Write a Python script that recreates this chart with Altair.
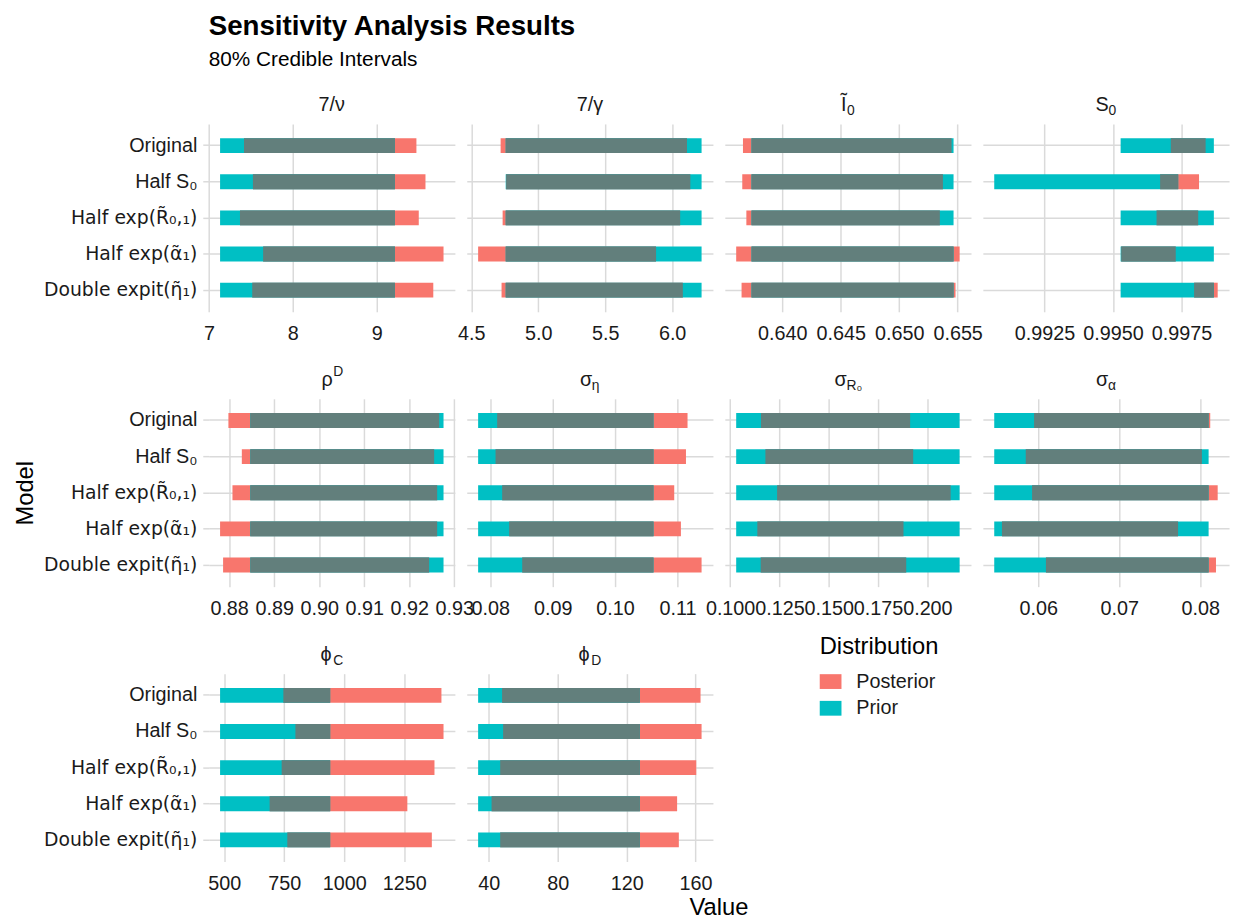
import altair as alt
import pandas as pd

FONT = "Liberation Sans, Arial, Helvetica, sans-serif"
TXT = "#1a1a1a"
GRID = "#DADADA"

MODELS = ["Original", "Half S\u2080", "Half exp(R\u0303\u2080,\u2081)",
          "Half exp(\u03b1\u0303\u2081)", "Double expit(\u03b7\u0303\u2081)"]

PARAMS = ["nu", "gamma", "I0", "S0", "rhoD", "sig_eta", "sig_R0", "sig_alpha", "phiC", "phiD"]

# 80% credible intervals (one value per model, in MODELS order)
PRIOR_LO = {
    "nu": [7.133, 7.133, 7.133, 7.133, 7.133],
    "gamma": [4.757, 4.757, 4.757, 4.757, 4.757],
    "I0": [0.63738, 0.63738, 0.63738, 0.63738, 0.63738],
    "S0": [0.99528, 0.99067, 0.99528, 0.99528, 0.99528],
    "rhoD": [0.88469, 0.88469, 0.88469, 0.88469, 0.88469],
    "sig_eta": [0.07806, 0.07806, 0.07806, 0.07806, 0.07806],
    "sig_R0": [0.10307, 0.10307, 0.10307, 0.10307, 0.10307],
    "sig_alpha": [0.05458, 0.05458, 0.05458, 0.05458, 0.05458],
    "phiC": [483, 483, 483, 483, 483],
    "phiD": [33.8, 33.8, 33.8, 33.8, 33.8],
}
PRIOR_HI = {
    "nu": [9.216, 9.216, 9.216, 9.216, 9.216],
    "gamma": [6.22, 6.22, 6.22, 6.22, 6.22],
    "I0": [0.65465, 0.65465, 0.65465, 0.65465, 0.65465],
    "S0": [0.99868, 0.99738, 0.99868, 0.99868, 0.99868],
    "rhoD": [0.92761, 0.92761, 0.92761, 0.92761, 0.92761],
    "sig_eta": [0.10615, 0.10615, 0.10615, 0.10615, 0.10615],
    "sig_R0": [0.21635, 0.21635, 0.21635, 0.21635, 0.21635],
    "sig_alpha": [0.08104, 0.08104, 0.08104, 0.08104, 0.08104],
    "phiC": [941.6, 941.6, 941.6, 941.6, 941.6],
    "phiD": [127.7, 127.7, 127.7, 127.7, 127.7],
}
POST_LO = {
    "nu": [7.418, 7.524, 7.37, 7.646, 7.516],
    "gamma": [4.719, 4.760, 4.734, 4.551, 4.726],
    "I0": [0.63665, 0.63659, 0.63694, 0.63607, 0.63653],
    "S0": [0.99711, 0.99672, 0.99659, 0.9953, 0.99796],
    "rhoD": [0.87984, 0.88282, 0.88074, 0.87799, 0.87866],
    "sig_eta": [0.08111, 0.08085, 0.08191, 0.08303, 0.08512],
    "sig_R0": [0.11564, 0.11789, 0.12381, 0.11379, 0.11549],
    "sig_alpha": [0.0595, 0.05847, 0.05925, 0.05553, 0.06096],
    "phiC": [746.6, 796.8, 739.5, 689.4, 763],
    "phiD": [47.7, 48.3, 46.6, 41.6, 46.6],
}
POST_HI = {
    "nu": [9.472, 9.58, 9.50, 9.795, 9.673],
    "gamma": [6.111, 6.136, 6.06, 5.88, 6.08],
    "I0": [0.65448, 0.65374, 0.65348, 0.65517, 0.65482],
    "S0": [0.99838, 0.99814, 0.99811, 0.99729, 0.99882],
    "rhoD": [0.92665, 0.92553, 0.9262, 0.9262, 0.92442],
    "sig_eta": [0.1116, 0.11135, 0.10947, 0.11054, 0.11385],
    "sig_R0": [0.19126, 0.1928, 0.21177, 0.18789, 0.18927],
    "sig_alpha": [0.08124, 0.08021, 0.08216, 0.07727, 0.08195],
    "phiC": [1405, 1413.7, 1376, 1263, 1365],
    "phiD": [162.9, 163.5, 160.4, 149.3, 150.3],
}

TICKS = {
    "nu": [7, 8, 9],
    "gamma": [4.5, 5.0, 5.5, 6.0],
    "I0": [0.640, 0.645, 0.650, 0.655],
    "S0": [0.9925, 0.9950, 0.9975],
    "rhoD": [0.88, 0.89, 0.90, 0.91, 0.92, 0.93],
    "sig_eta": [0.08, 0.09, 0.10, 0.11],
    "sig_R0": [0.100, 0.125, 0.150, 0.175, 0.200],
    "sig_alpha": [0.06, 0.07, 0.08],
    "phiC": [500, 750, 1000, 1250],
    "phiD": [40, 80, 120, 160],
}
FMT = {"nu": ".0f", "gamma": ".1f", "I0": ".3f", "S0": ".4f", "rhoD": ".2f",
       "sig_eta": ".2f", "sig_R0": ".3f", "sig_alpha": ".2f", "phiC": ".0f", "phiD": ".0f"}

# header: (main, sub, sup, main width px, script width px)
HEADERS = {
    "nu": ("7/\u03bd", "", "", 0, 0),
    "gamma": ("7/\u03b3", "", "", 0, 0),
    "I0": ("\u0128", "0", "", 6, 8),
    "S0": ("S", "0", "", 13, 8),
    "rhoD": ("\u03c1", "", "D", 11, 10),
    "sig_eta": ("\u03c3", "\u03b7", "", 12, 8),
    "sig_R0": ("\u03c3", "R\u2080", "", 12, 15),
    "sig_alpha": ("\u03c3", "\u03b1", "", 12, 8),
    "phiC": ("\u03d5", "C", "", 13, 10),
    "phiD": ("\u03d5", "D", "", 13, 10),
}

W, H = 249, 190
COLORS = ["#F8766D", "#00BFC4", "#627F7C"]
HAS_TILDE = "indexof(datum.label, 'exp') >= 0"


def table(key):
    rows = []
    for i, m in enumerate(MODELS):
        rows.append(dict(model=m, dist="Posterior", lo=POST_LO[key][i], hi=POST_HI[key][i]))
    for i, m in enumerate(MODELS):
        rows.append(dict(model=m, dist="Prior", lo=PRIOR_LO[key][i], hi=PRIOR_HI[key][i]))
    for i, m in enumerate(MODELS):
        lo = max(POST_LO[key][i], PRIOR_LO[key][i])
        hi = min(POST_HI[key][i], PRIOR_HI[key][i])
        if hi > lo:
            rows.append(dict(model=m, dist="Overlap", lo=lo, hi=hi))
    return pd.DataFrame(rows)


def text_layer(s, x, y, size, align):
    return alt.Chart(pd.DataFrame({"t": [s]})).mark_text(
        align=align, baseline="middle", font=FONT, fontSize=size, color=TXT
    ).encode(text="t:N", x=alt.value(x), y=alt.value(y))


def panel(idx, key):
    col = idx % 4
    if col == 0:
        yaxis = alt.Axis(title="Model" if key == "rhoD" else None, labels=True, ticks=True,
                         tickSize=6, tickColor=GRID, tickWidth=1.5, domain=False, grid=True,
                         labelPadding=6, titlePadding=6,
                         labelFont={"condition": {"test": HAS_TILDE, "value": "DejaVu Sans"}, "value": FONT},
                         labelFontSize={"condition": {"test": HAS_TILDE, "value": 19}, "value": 20})
    else:
        yaxis = alt.Axis(title=None, labels=False, ticks=False, domain=False, grid=True)
    if key == "phiD":
        xaxis = alt.Axis(values=TICKS[key], format=FMT[key], grid=True, ticks=False, domain=False,
                         labelFlush=False, labelOverlap=False, labelPadding=12, title="Value",
                         titleX=254.5, titleY=35, titleAlign="center", titleAnchor="middle")
    else:
        xaxis = alt.Axis(values=TICKS[key], format=FMT[key], grid=True, ticks=False, domain=False,
                         labelFlush=False, labelOverlap=False, labelPadding=12, title=None)
    bars = alt.Chart(table(key)).mark_bar(size=15).encode(
        y=alt.Y("model:N", scale=alt.Scale(domain=MODELS, paddingInner=0, paddingOuter=0.1), axis=yaxis),
        x=alt.X("lo:Q", scale=alt.Scale(zero=False, nice=False, padding=11.5), axis=xaxis),
        x2="hi:Q",
        color=alt.Color("dist:N", scale=alt.Scale(domain=["Posterior", "Prior", "Overlap"], range=COLORS),
                        legend=alt.Legend(values=["Posterior", "Prior"], title="Distribution",
                                          orient="none", legendX=618, legendY=517)),
    )
    main, sub, sup, mw, sw = HEADERS[key]
    hy = -19
    layers = [bars]
    if not sub and not sup:
        layers.append(text_layer(main, W / 2, hy, 20, "center"))
    else:
        x0 = W / 2 - (mw + sw) / 2
        layers.append(text_layer(main, x0, hy, 20, "left"))
        if sub:
            layers.append(text_layer(sub, x0 + mw, hy + 6, 14, "left"))
        else:
            layers.append(text_layer(sup, x0 + mw + 1, hy - 8, 14, "left"))
    return alt.layer(*layers).properties(width=W, height=H)


panels = [panel(i, k) for i, k in enumerate(PARAMS)]

chart = alt.concat(*panels, columns=4, spacing={"row": 88, "column": 12}, bounds="flush").properties(
    title=alt.TitleParams(
        text="Sensitivity Analysis Results", subtitle="80% Credible Intervals",
        anchor="start", frame="group", font=FONT, subtitleFont=FONT, fontSize=28,
        fontWeight="bold", subtitleFontSize=21, color="#000000", subtitleColor="#000000",
        subtitlePadding=8, offset=26,
    ),
    padding={"left": 5, "top": 0, "right": 5, "bottom": 5},
).configure_view(stroke=None).configure_axis(
    labelFont=FONT, labelFontSize=20, labelColor=TXT, titleFont=FONT, titleFontSize=24,
    titleFontWeight="normal", titleColor="#000000", gridColor=GRID, gridWidth=1.5,
).configure_legend(
    titleFont=FONT, labelFont=FONT, titleFontSize=24, labelFontSize=20, titleFontWeight="normal",
    titleColor="#000000", labelColor=TXT, symbolType="M-1,-0.68H1V0.68H-1Z", symbolSize=484,
    symbolStrokeWidth=0, titlePadding=12, rowPadding=6, labelOffset=15,
)

chart.save("out.html", embed_options={"renderer": "svg", "actions": False})
